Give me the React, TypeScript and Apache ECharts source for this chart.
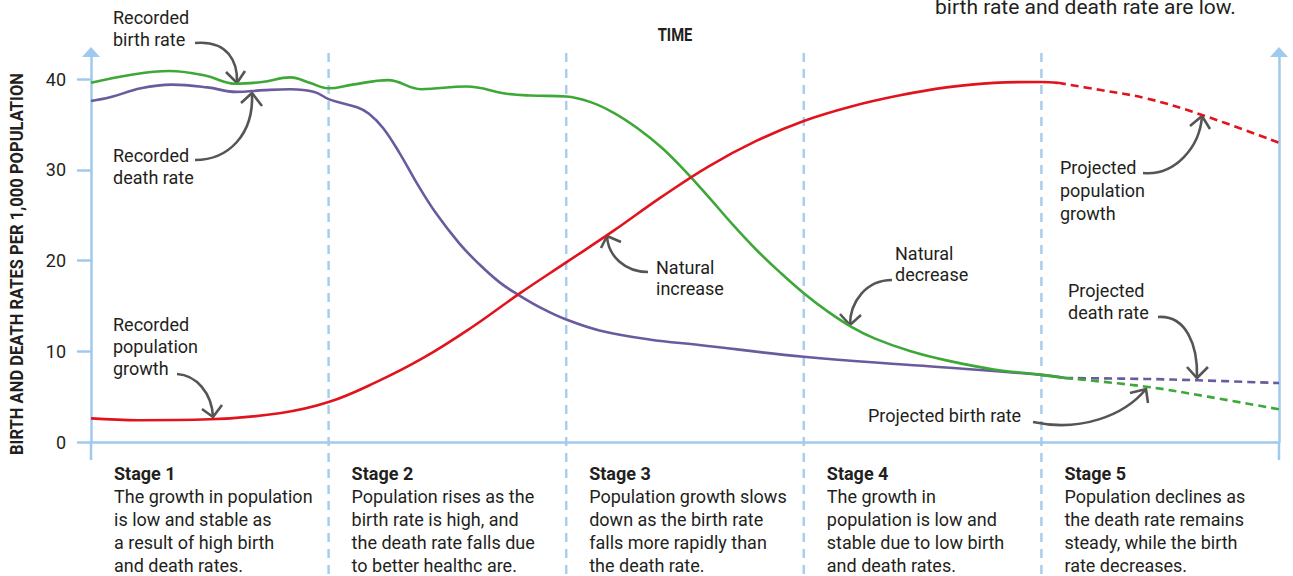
import React, { useEffect, useRef } from "react";
import * as echarts from "echarts";

// ---------- data (x in stage units: 0..5, y in rate per 1,000) ----------
const stageBounds = [1, 2, 3, 4];
const stageStarts = [0, 1, 2, 3, 4];
const yTicks = [0, 10, 20, 30, 40];

const birthRecorded: [number, number][] = [
  [0, 39.6], [0.17, 40.5], [0.33, 40.9], [0.48, 40.4], [0.61, 39.5], [0.72, 39.7],
  [0.84, 40.2], [0.92, 39.6], [1.0, 39.0], [1.1, 39.4], [1.25, 39.9], [1.39, 38.9],
  [1.58, 39.2], [1.75, 38.4], [1.85, 38.2], [2.0, 38.1], [2.1, 37.5], [2.2, 36.3],
  [2.3, 34.6], [2.4, 32.5], [2.5, 29.9], [2.6, 27.0], [2.7, 24.0], [2.8, 21.2],
  [2.9, 18.7], [3.0, 16.4], [3.1, 14.4], [3.2, 12.7], [3.3, 11.4], [3.45, 10.0],
  [3.6, 9.0], [3.8, 8.0], [4.0, 7.4], [4.1, 7.05],
];
const birthProjected: [number, number][] = [
  [4.1, 7.05], [4.44, 6.1], [4.7, 5.0], [5.0, 3.6],
];
const deathRecorded: [number, number][] = [
  [0, 37.6], [0.08, 38.0], [0.21, 39.0], [0.34, 39.4], [0.49, 39.1], [0.61, 38.6],
  [0.73, 38.8], [0.84, 38.9], [0.94, 38.6], [1.0, 37.8], [1.05, 37.4], [1.12, 36.9],
  [1.17, 36.2], [1.23, 34.6], [1.3, 31.8], [1.37, 28.6], [1.45, 25.3], [1.55, 21.9],
  [1.63, 19.7], [1.72, 17.6], [1.8, 16.2], [1.9, 14.7], [2.0, 13.5], [2.14, 12.3],
  [2.35, 11.3], [2.56, 10.7], [3.0, 9.4], [3.5, 8.4], [4.0, 7.4], [4.1, 7.05],
];
const deathProjected: [number, number][] = [
  [4.1, 7.05], [4.44, 6.95], [4.66, 6.8], [5.0, 6.5],
];
const popRecorded: [number, number][] = [
  [0, 2.6], [0.2, 2.4], [0.5, 2.5], [0.8, 3.2], [1.0, 4.4], [1.2, 6.6], [1.4, 9.3],
  [1.6, 12.6], [1.8, 16.3], [2.0, 19.8], [2.2, 23.3], [2.4, 27.0], [2.6, 30.4],
  [2.8, 33.2], [3.0, 35.4], [3.2, 37.0], [3.4, 38.2], [3.6, 39.1], [3.8, 39.6],
  [4.0, 39.7], [4.07, 39.6],
];
const popProjected: [number, number][] = [
  [4.07, 39.6], [4.25, 38.8], [4.44, 37.9], [4.66, 36.2], [5.0, 33.0],
];

const stageTitles = ["Stage 1", "Stage 2", "Stage 3", "Stage 4", "Stage 5"];
const stageLines = [
  ["The growth in population", "is low and stable as", "a result of high birth", "and death rates."],
  ["Population rises as the", "birth rate is high, and", "the death rate falls due", "to better healthc are."],
  ["Population growth slows", "down as the birth rate", "falls more rapidly than", "the death rate."],
  ["The growth in", "population is low and", "stable due to low birth", "and death rates."],
  ["Population declines as", "the death rate remains", "steady, while the birth", "rate decreases."],
];

const GREEN = "#3da838";
const PURPLE = "#6a5b9e";
const RED = "#e1141e";
const AXIS = "#9fcaee";
const DIVIDER = "#a9cdea";
const TEXT = "#231f20";
const ARROW = "#555555";
const FONT = "Roboto, 'Noto Sans', sans-serif";

type Arrow = { s: [number, number]; c1: [number, number]; c2: [number, number]; t: [number, number]; w1: [number, number]; w2: [number, number] };
const arrows: Arrow[] = [
  { s: [195, 43], c1: [228, 40], c2: [238, 62], t: [237, 83], w1: [226, 72], w2: [245, 71] },
  { s: [195, 160], c1: [228, 160], c2: [254, 135], t: [252, 93], w1: [241, 103], w2: [262, 106] },
  { s: [177, 374], c1: [196, 375], c2: [212, 393], t: [213, 417], w1: [202, 409], w2: [222, 405] },
  { s: [648, 272], c1: [625, 272], c2: [608, 256], t: [607, 236], w1: [601, 248], w2: [621, 242] },
  { s: [892, 280], c1: [866, 280], c2: [850, 302], t: [850, 325], w1: [840, 314], w2: [861, 315] },
  { s: [1143, 173], c1: [1176, 176], c2: [1200, 146], t: [1202, 116], w1: [1190, 126], w2: [1210, 129] },
  { s: [1158, 317], c1: [1186, 315], c2: [1198, 345], t: [1197, 378], w1: [1187, 367], w2: [1208, 367] },
  { s: [1033, 422], c1: [1080, 432], c2: [1124, 416], t: [1146, 389], w1: [1130, 393], w2: [1148, 403] },
];

type Label = { text: string; x: number; y: number; lh: number };
const labels: Label[] = [
  { text: "Recorded\nbirth rate", x: 113, y: 17, lh: 22 },
  { text: "Recorded\ndeath rate", x: 113, y: 155, lh: 22 },
  { text: "Recorded\npopulation\ngrowth", x: 113, y: 324, lh: 22 },
  { text: "Natural\nincrease", x: 656, y: 267, lh: 21 },
  { text: "Natural\ndecrease", x: 895, y: 253, lh: 21 },
  { text: "Projected\npopulation\ngrowth", x: 1060, y: 167, lh: 23 },
  { text: "Projected\ndeath rate", x: 1068, y: 290, lh: 22 },
  { text: "Projected birth rate", x: 868, y: 415, lh: 22 },
];

export default function App() {
  const ref = useRef<HTMLDivElement>(null);
  useEffect(() => {
    if (!ref.current) return;
    const chart = echarts.init(ref.current, null, { renderer: "svg" });
    const line = (data: [number, number][], color: string, dashed: boolean) => ({
      type: "line",
      data,
      showSymbol: false,
      smooth: 0.4,
      silent: true,
      lineStyle: { color, width: 2.6, type: dashed ? [8, 5] : "solid" },
    });
    chart.setOption({
      animation: false,
      grid: { left: 91, right: 14, top: 52, bottom: 134 },
      xAxis: {
        type: "value",
        min: 0,
        max: 5,
        axisLine: { show: true, lineStyle: { color: AXIS, width: 2.5 } },
        axisTick: { show: false },
        axisLabel: { show: false },
        splitLine: { show: false },
      },
      yAxis: [
        {
          type: "value",
          position: "left",
          min: 0,
          max: 43,
          interval: 10,
          axisLine: {
            show: true,
            symbol: ["none", "triangle"],
            symbolSize: [18, 10],
            lineStyle: { color: AXIS, width: 2.5 },
          },
          axisTick: { show: true, length: 14, customValues: yTicks, lineStyle: { color: AXIS, width: 2.5 } },
          axisLabel: {
            customValues: yTicks,
            margin: 25,
            fontSize: 18,
            color: TEXT,
            fontFamily: FONT,
          },
          splitLine: { show: false },
        },
        {
          type: "value",
          position: "right",
          min: 0,
          max: 43,
          interval: 10,
          axisLine: {
            show: true,
            symbol: ["none", "triangle"],
            symbolSize: [18, 10],
            lineStyle: { color: AXIS, width: 2.5 },
          },
          axisTick: { show: false },
          axisLabel: { show: false },
          splitLine: { show: false },
        },
      ],
      series: [
        line(deathRecorded, PURPLE, false),
        line(deathProjected, PURPLE, true),
        line(birthRecorded, GREEN, false),
        line(birthProjected, GREEN, true),
        line(popRecorded, RED, false),
        line(popProjected, RED, true),
      ],
    });

    const px = (v: number) => chart.convertToPixel({ xAxisIndex: 0 }, v) as number;
    const py = (v: number) => chart.convertToPixel({ yAxisIndex: 0 }, v) as number;
    const y0 = py(0);
    const graphics: any[] = [];

    // stage dividers
    stageBounds.forEach((b) => {
      const x = px(b);
      graphics.push({
        type: "line",
        silent: true,
        z: -1,
        shape: { x1: x, y1: 53, x2: x, y2: 576 },
        style: { stroke: DIVIDER, lineWidth: 2.5, lineDash: [9, 7] },
      });
    });
    // axis extensions below zero
    [px(0), px(5)].forEach((x) => {
      graphics.push({
        type: "line",
        silent: true,
        shape: { x1: x, y1: y0, x2: x, y2: y0 + 18 },
        style: { stroke: AXIS, lineWidth: 2.5 },
      });
    });
    // stage texts
    stageStarts.forEach((s, i) => {
      const x = px(s) + 23;
      graphics.push({
        type: "text",
        silent: true,
        x,
        y: 473,
        style: { text: stageTitles[i], fontSize: 18, fontWeight: "bold", fontFamily: FONT, fill: TEXT, align: "left", verticalAlign: "middle" },
      });
      stageLines[i].forEach((t, k) => {
        graphics.push({
          type: "text",
          silent: true,
          x,
          y: 496 + 23 * k,
          style: { text: t, fontSize: 18, fontFamily: FONT, fill: TEXT, align: "left", verticalAlign: "middle" },
        });
      });
    });
    // annotation labels
    labels.forEach((l) => {
      graphics.push({
        type: "text",
        silent: true,
        x: l.x,
        y: l.y - l.lh / 2,
        style: { text: l.text, fontSize: 18, fontFamily: FONT, fill: TEXT, align: "left", verticalAlign: "top", lineHeight: l.lh },
      });
    });
    // arrows
    arrows.forEach((a) => {
      graphics.push({
        type: "bezierCurve",
        silent: true,
        shape: { x1: a.s[0], y1: a.s[1], cpx1: a.c1[0], cpy1: a.c1[1], cpx2: a.c2[0], cpy2: a.c2[1], x2: a.t[0], y2: a.t[1] },
        style: { stroke: ARROW, lineWidth: 2.6, fill: null },
      });
      graphics.push({
        type: "polyline",
        silent: true,
        shape: { points: [a.w1, a.t, a.w2] },
        style: { stroke: ARROW, lineWidth: 2.6, fill: null, lineJoin: "miter" },
      });
    });
    // titles
    graphics.push({
      type: "text",
      silent: true,
      x: 675,
      y: 35,
      scaleX: 0.82,
      style: { text: "TIME", fontSize: 18, fontWeight: "bold", fontFamily: FONT, fill: TEXT, align: "center", verticalAlign: "middle" },
    });
    graphics.push({
      type: "text",
      silent: true,
      x: 17,
      y: 264,
      rotation: Math.PI / 2,
      scaleX: 0.92,
      style: {
        text: "BIRTH AND DEATH RATES PER 1,000 POPULATION",
        fontSize: 18,
        fontWeight: "bold",
        fontFamily: FONT,
        fill: TEXT,
        align: "center",
        verticalAlign: "middle",
      },
    });
    graphics.push({
      type: "text",
      silent: true,
      x: 935,
      y: 7,
      style: { text: "birth rate and death rate are low.", fontSize: 21, fontFamily: FONT, fill: TEXT, align: "left", verticalAlign: "middle" },
    });

    chart.setOption({ graphic: graphics });
    return () => chart.dispose();
  }, []);
  return <div ref={ref} style={{ position: "absolute", left: 0, top: 0, width: 1293, height: 576 }} />;
}
